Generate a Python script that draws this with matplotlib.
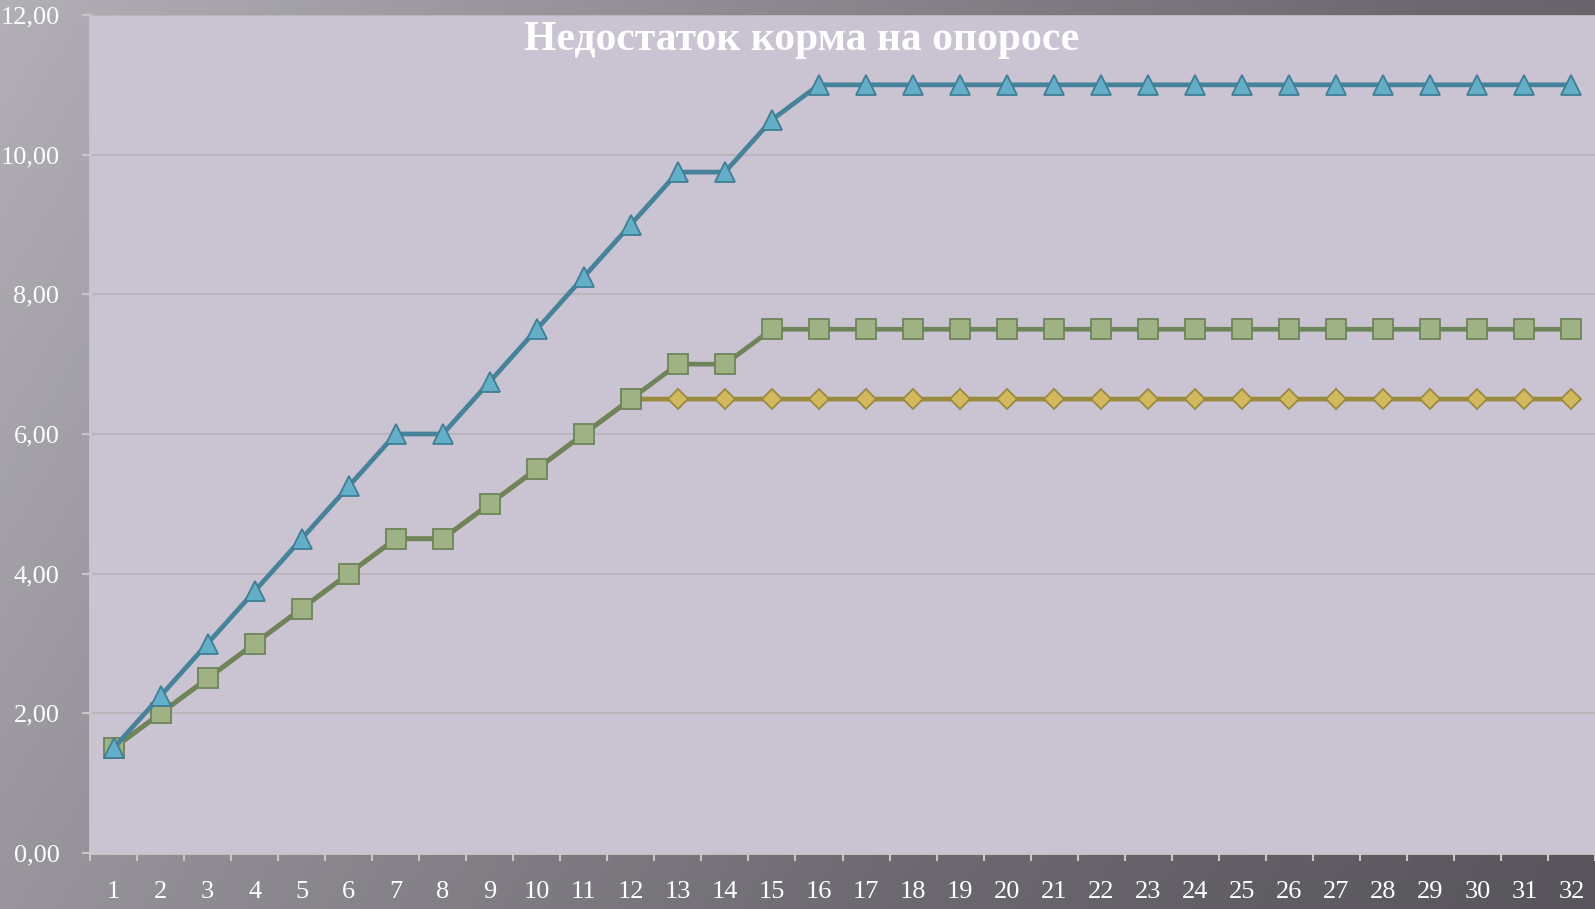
import numpy as np
import matplotlib
matplotlib.use("Agg")
import matplotlib.pyplot as plt
from matplotlib.colors import LinearSegmentedColormap

# ---- data ----
days = list(range(1, 33))
tick_labels = [str(d) for d in days]
series_diamond = [1.5, 2.0, 2.5, 3.0, 3.5, 4.0, 4.5, 4.5, 5.0, 5.5, 6.0, 6.5] + [6.5] * 20
series_square = [1.5, 2.0, 2.5, 3.0, 3.5, 4.0, 4.5, 4.5, 5.0, 5.5, 6.0, 6.5, 7.0, 7.0, 7.5] + [7.5] * 17
series_triangle = [1.5, 2.25, 3.0, 3.75, 4.5, 5.25, 6.0, 6.0, 6.75, 7.5, 8.25, 9.0, 9.75, 9.75, 10.5] + [11.0] * 17
y_ticks = [0, 2, 4, 6, 8, 10, 12]
title = "Недостаток корма на опоросе"

W, H, DPI = 1595, 909, 100
fig = plt.figure(figsize=(W / DPI, H / DPI), dpi=DPI)

# background gradient
bg = fig.add_axes([0, 0, 1, 1], zorder=-10)
bg.set_axis_off()
xx = np.linspace(0, 1, 400)
yy = np.linspace(0, 1, 200)
X, Y = np.meshgrid(xx, yy)
Z = 0.75 * X + 0.25 * Y
cmap = LinearSegmentedColormap.from_list("bgc", ["#B2AFB6", "#8F8C93", "#6C6970", "#57545B"])
bg.imshow(Z, cmap=cmap, aspect="auto", extent=[0, 1, 0, 1], origin="upper")
bg.set_xlim(0, 1)
bg.set_ylim(0, 1)

left, right, top, bottom = 90, 1595, 15, 853
ax = fig.add_axes([left / W, 1 - bottom / H, (right - left) / W, (bottom - top) / H])
ax.set_facecolor("#C9C3D2")

x = np.arange(len(days))
ax.plot(x, series_diamond, color="#9A8A3E", lw=3.4, marker="D", ms=10,
        mfc="#D2BA5C", mec="#9A8A3E", mew=1.3, zorder=3)
ax.plot(x, series_square, color="#6E845A", lw=3.4, marker="s", ms=14,
        mfc="#9FB283", mec="#6E845A", mew=1.3, zorder=4)
ax.plot(x, series_triangle, color="#46839A", lw=3.4, marker="^", ms=15,
        mfc="#63AFC8", mec="#3F7E94", mew=1.3, zorder=5)

ax.set_xlim(-0.5, len(days) - 0.5)
ax.set_ylim(0, 12)
ax.set_yticks(y_ticks)
ax.set_yticklabels([f"{v:.2f}".replace(".", ",") for v in y_ticks])
ax.set_xticks(x)
ax.set_xticklabels(tick_labels)
ax.set_xticks(np.arange(-0.5, len(days) + 0.5, 1), minor=True)
ax.tick_params(axis="x", which="major", length=0, pad=20)
ax.tick_params(axis="x", which="minor", length=6, width=1.5, color="#C8C6C8", direction="out")
ax.tick_params(axis="y", length=6, width=1.5, color="#C8C6C8", pad=16)
for lab in ax.get_xticklabels() + ax.get_yticklabels():
    lab.set_fontfamily("Liberation Serif")
    lab.set_fontsize(19)
    lab.set_color("white")

ax.grid(axis="y", color="#B9B6BB", lw=1.5)
ax.set_axisbelow(True)
for s in ["top", "right"]:
    ax.spines[s].set_visible(False)
for s in ["left", "bottom"]:
    ax.spines[s].set_color("#C8C6C8")
    ax.spines[s].set_linewidth(2)

fig.text(802 / W, 1 - 40 / H, title, ha="center", va="center", color="white",
         fontsize=30, fontweight="bold", family="Liberation Serif")

fig.savefig("out.png", dpi=DPI)
